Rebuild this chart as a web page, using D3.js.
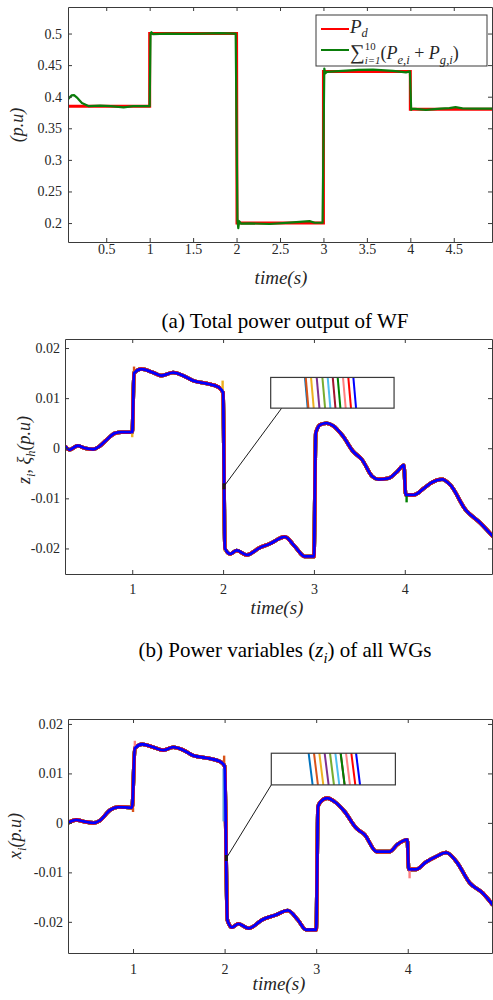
<!DOCTYPE html>
<html>
<head>
<meta charset="utf-8">
<script src="https://cdn.jsdelivr.net/npm/d3@7"></script>
<style>
  body { margin: 0; background: #fff; }
  svg { display: block; }
  .axis text { font-family: "Liberation Serif", "Times New Roman", serif; font-size: 14px; fill: #262626; }
  .axis line, .axis path { stroke: #3a3a3a; stroke-width: 1; }
  .cap { font-family: "Liberation Serif", "Times New Roman", serif; font-size: 21px; fill: #000; }
  .math { font-family: "Liberation Serif", "Times New Roman", serif; fill: #262626; }
</style>
</head>
<body>
<div id="fig"></div>
<script>
// ---- data ----

// (a) total power
const pdTime  = [0.06, 1.0, 1.0, 2.0, 2.005, 3.0, 3.0, 4.0, 4.0, 4.94];
const pdValue = [0.385, 0.385, 0.5, 0.5, 0.2, 0.2, 0.44, 0.44, 0.38, 0.38];

const sumTime  = [0.06, 0.10, 0.13, 0.16, 0.22, 0.30, 0.43, 0.55, 0.70, 0.81, 1.0, 1.01, 1.02, 1.04, 1.2, 1.5, 1.8, 1.99,
                  2.01, 2.02, 2.03, 2.05, 2.15, 2.38, 2.61, 2.84, 2.9, 2.99, 3.01, 3.02, 3.04, 3.22, 3.40, 3.57, 3.8, 3.95, 3.995,
                  4.01, 4.02, 4.18, 4.35, 4.45, 4.52, 4.6, 4.75, 4.94];
const sumValue = [0.396, 0.402, 0.4025, 0.399, 0.390, 0.385, 0.386, 0.385, 0.383, 0.385, 0.385, 0.499, 0.502, 0.499, 0.5, 0.4995, 0.5005, 0.5,
                  0.205, 0.192, 0.203, 0.199, 0.1995, 0.1985, 0.2006, 0.203, 0.2005, 0.2006, 0.4446, 0.437, 0.4394, 0.441, 0.4425, 0.443, 0.441, 0.4385, 0.44,
                  0.379, 0.381, 0.379, 0.381, 0.382, 0.3835, 0.3815, 0.381, 0.381];

// (b) power variables z_i
const zTime  = [0.26, 0.31, 0.40, 0.48, 0.57, 0.64, 0.72, 0.81, 0.88, 1.00, 1.02, 1.10, 1.23, 1.32, 1.45, 1.56, 1.67, 1.82, 1.95, 2.00,
                2.02, 2.08, 2.15, 2.26, 2.40, 2.51, 2.68, 2.79, 2.90, 3.00, 3.02, 3.07, 3.14, 3.21, 3.32, 3.43, 3.53, 3.64, 3.71, 3.82,
                3.92, 3.99, 4.01, 4.10, 4.21, 4.30, 4.41, 4.50, 4.67, 4.83, 4.97];
const zValue = [0.0004, -0.0003, 0.0005, 0.0, -0.0002, 0.0004, 0.0017, 0.0030, 0.0032, 0.0032, 0.0150, 0.0158, 0.0151, 0.0145, 0.0151, 0.0145, 0.0135, 0.0129, 0.0122, 0.0111,
                -0.0200, -0.0211, -0.0204, -0.0213, -0.0199, -0.0191, -0.0177, -0.0196, -0.0216, -0.0216, 0.0030, 0.0047, 0.0050, 0.0045, 0.0024, -0.0006, -0.0023, -0.0056, -0.0062, -0.0060,
                -0.0046, -0.0034, -0.0093, -0.0093, -0.0080, -0.0068, -0.0062, -0.0073, -0.0123, -0.0149, -0.0176];

// (c) states x_i
const xTime  = [0.29, 0.38, 0.46, 0.57, 0.64, 0.75, 0.84, 0.99, 1.02, 1.10, 1.22, 1.33, 1.44, 1.55, 1.66, 1.81, 1.95, 2.00, 2.03, 2.08,
                2.15, 2.26, 2.42, 2.56, 2.69, 2.80, 2.89, 3.00, 3.02, 3.05, 3.12, 3.20, 3.31, 3.44, 3.53, 3.66, 3.80, 3.89, 3.995, 4.01,
                4.09, 4.20, 4.31, 4.42, 4.53, 4.68, 4.82, 4.93];
const xValue = [0.0, 0.0006, 0.0003, 0.0, 0.0005, 0.0026, 0.0032, 0.0031, 0.0151, 0.0159, 0.0153, 0.0147, 0.0153, 0.0147, 0.0136, 0.0131, 0.0124, 0.0115, -0.0196, -0.0211,
                -0.0204, -0.0213, -0.0195, -0.0186, -0.0177, -0.0196, -0.0216, -0.0216, 0.0033, 0.0043, 0.0050, 0.0043, 0.0023, -0.0011, -0.0024, -0.0058, -0.0058, -0.0043, -0.0034, -0.0094,
                -0.0094, -0.0079, -0.0068, -0.0060, -0.0078, -0.0122, -0.0142, -0.0166];

// one colour per WG (+ the blue trace drawn on top)
const wgColors = ["#0072BD", "#D95319", "#EDB120", "#7E2F8E", "#77AC30", "#4DBEEE", "#A2142F", "#008000", "#FF8080", "#FF0000", "#0000FF"];

// short transients of single WGs poking out from under the blue trace
const zSpikes = [
  { t: 1.0,   from: 0.0032,  to: 0.0022,  color: "#EDB120" },
  { t: 1.02,  from: 0.0150,  to: 0.0163,  color: "#D95319" },
  { t: 1.995, from: 0.0111,  to: 0.0135,  color: "#EDB120" },
  { t: 2.02,  from: -0.0200, to: -0.0206, color: "#EDB120" },
  { t: 4.02,  from: -0.0093, to: -0.0108, color: "#008000" }
];
const xSpikes = [
  { t: 1.0,   from: 0.0031,  to: 0.0022,  color: "#D95319" },
  { t: 1.02,  from: 0.0151,  to: 0.0166,  color: "#FF8080" },
  { t: 1.995, from: 0.0115,  to: 0.0136,  color: "#D95319" },
  { t: 1.99,  from: 0.0110,  to: 0.0003,  color: "#5B9BD5" },
  { t: 4.02,  from: -0.0094, to: -0.0112, color: "#FF8080" }
];

// zoom insets: where each WG trace crosses the top / bottom of the inset window (relative units 0..1)
const insetZTop = [0.278, 0.284, 0.327, 0.373, 0.419, 0.462, 0.503, 0.543, 0.586, 0.629, 0.670];
const insetZBot = [0.300, 0.306, 0.349, 0.395, 0.441, 0.484, 0.525, 0.565, 0.608, 0.651, 0.692];
const insetXTop = [0.301, 0.344, 0.387, 0.430, 0.473, 0.516, 0.559, 0.559, 0.602, 0.645, 0.683];
const insetXBot = [0.333, 0.376, 0.419, 0.462, 0.505, 0.548, 0.591, 0.591, 0.634, 0.677, 0.715];

// ticks
const aXTicks = [0.5, 1, 1.5, 2, 2.5, 3, 3.5, 4, 4.5];
const aYTicks = [0.2, 0.25, 0.3, 0.35, 0.4, 0.45, 0.5];
const bXTicks = [1, 2, 3, 4];
const bYTicks = [-0.02, -0.01, 0, 0.01, 0.02];

// ---- helpers ----
const zip = (ts, vs) => ts.map((t, i) => ({ t: t, v: vs[i] }));

const svg = d3.select("#fig").append("svg").attr("width", 493).attr("height", 1000);

function startPanel(id, dims, xDomain, yDomain) {
  const g = svg.append("g").attr("transform", "translate(" + dims.left + "," + dims.top + ")");
  const x = d3.scaleLinear().domain(xDomain).range([0, dims.width]);
  const y = d3.scaleLinear().domain(yDomain).range([dims.height, 0]);
  g.append("clipPath").attr("id", id).append("rect").attr("width", dims.width).attr("height", dims.height);
  const plot = g.append("g").attr("clip-path", "url(#" + id + ")");
  return { g, plot, x, y, dims };
}

function addAxes(p, xTicks, yTicks, xPad, yPad) {
  const fmt = d => String(+d.toFixed(3));
  p.g.append("g").attr("class", "axis")
    .attr("transform", "translate(0," + p.dims.height + ")")
    .call(d3.axisBottom(p.x).tickValues(xTicks).tickSize(-4).tickSizeOuter(0).tickPadding(xPad).tickFormat(fmt));
  p.g.append("g").attr("class", "axis")
    .call(d3.axisTop(p.x).tickValues(xTicks).tickSize(-4).tickSizeOuter(0).tickFormat(""));
  p.g.append("g").attr("class", "axis")
    .call(d3.axisLeft(p.y).tickValues(yTicks).tickSize(-4).tickSizeOuter(0).tickPadding(yPad).tickFormat(fmt));
  p.g.append("g").attr("class", "axis")
    .attr("transform", "translate(" + p.dims.width + ",0)")
    .call(d3.axisRight(p.y).tickValues(yTicks).tickSize(-4).tickSizeOuter(0).tickFormat(""));
}

// text with sub/superscripts, parts = [{t, it, sub, sup, stack}]
// stack: superscript drawn above the preceding subscript
function mathText(sel, parts, size, subK, supK) {
  subK = subK || 0.3;
  supK = supK || 0.42;
  let shift = 0, prev = null, extra = 0;
  parts.forEach(p => {
    const target = p.sub ? size * subK : p.sup ? -size * supK : 0;
    const ts = sel.append("tspan").text(p.t)
      .attr("dy", target - shift)
      .style("font-size", (p.sub || p.sup ? size * (p.small || 0.7) : (p.big || 1) * size) + "px")
      .style("font-style", p.it ? "italic" : "normal");
    if (p.stack && prev) {
      const subLen = prev.node().getComputedTextLength();
      ts.attr("dx", -subLen);
      extra = Math.max(0, subLen - ts.node().getComputedTextLength());
    } else if (extra) {
      ts.attr("dx", extra);
      extra = 0;
    }
    shift = target;
    prev = ts;
  });
}

function yLabel(x, y, parts, size) {
  const t = svg.append("text").attr("class", "math")
    .attr("transform", "translate(" + x + "," + y + ") rotate(-90)")
    .attr("text-anchor", "middle");
  mathText(t, parts, size);
}

function xLabel(x, y) {
  svg.append("text").attr("class", "math").attr("x", x).attr("y", y)
    .attr("text-anchor", "middle").style("font-size", "19px").style("font-style", "italic")
    .text("time(s)");
}

function caption(x, y, parts) {
  const t = svg.append("text").attr("class", "cap").attr("x", x).attr("y", y).attr("text-anchor", "middle");
  mathText(t, parts, 21);
}

function lineGen(p, curve) {
  return d3.line().x(d => p.x(d.t)).y(d => p.y(d.v)).curve(curve || d3.curveLinear);
}

// WG traces + spikes + zoom inset for panels b and c
function drawWGPanel(p, data, spikes, insetTop, insetBot, box, mark) {
  const line = lineGen(p, d3.curveMonotoneX);
  const blue = wgColors[wgColors.length - 1];
  // coloured traces stacked underneath the blue one
  wgColors.slice(0, -1).forEach(c => {
    p.plot.append("path").datum(data)
      .attr("d", line).attr("fill", "none")
      .attr("stroke", c).attr("stroke-width", 3.6)
      .attr("stroke-linejoin", "round");
  });
  spikes.forEach(s => {
    p.plot.append("line")
      .attr("x1", p.x(s.t)).attr("x2", p.x(s.t))
      .attr("y1", p.y(s.from)).attr("y2", p.y(s.to))
      .attr("stroke", s.color).attr("stroke-width", 2.4);
  });
  p.plot.append("path").datum(data)
    .attr("d", line).attr("fill", "none")
    .attr("stroke", blue).attr("stroke-width", 2.8)
    .attr("stroke-linejoin", "round");

  // zoom marker + connector
  const bx0 = p.x(box.t0), bx1 = p.x(box.t1), by0 = p.y(box.v1), by1 = p.y(box.v0);
  p.g.append("line")
    .attr("x1", bx0 + 11 * box.connect).attr("y1", by1)
    .attr("x2", p.x(mark.t)).attr("y2", p.y(mark.v))
    .attr("stroke", "#000").attr("stroke-width", 0.9);
  p.g.append("rect")
    .attr("x", p.x(mark.t) - 1.5).attr("y", p.y(mark.v) - 3)
    .attr("width", 3).attr("height", 6).attr("fill", "#1a1a1a");

  // inset
  const ins = p.g.append("g");
  ins.append("rect").attr("x", bx0).attr("y", by0).attr("width", bx1 - bx0).attr("height", by1 - by0)
    .attr("fill", "#fff").attr("stroke", "none");
  const ix = d3.scaleLinear().domain([0, 1]).range([bx0, bx1]);
  wgColors.forEach((c, i) => {
    ins.append("line")
      .attr("x1", ix(insetTop[i])).attr("y1", by0)
      .attr("x2", ix(insetBot[i])).attr("y2", by1)
      .attr("stroke", c).attr("stroke-width", 2);
  });
  ins.append("rect").attr("x", bx0).attr("y", by0).attr("width", bx1 - bx0).attr("height", by1 - by0)
    .attr("fill", "none").attr("stroke", "#3a3a3a").attr("stroke-width", 1.2);
}

// ---- panel (a) ----
const pa = startPanel("clipA", { left: 68, top: 7, width: 424, height: 235 }, [0.06, 4.94], [0.17, 0.542]);
pa.plot.append("path").datum(zip(pdTime, pdValue))
  .attr("d", lineGen(pa)).attr("fill", "none").attr("stroke", "#FF0000").attr("stroke-width", 3);
pa.plot.append("path").datum(zip(sumTime, sumValue))
  .attr("d", lineGen(pa)).attr("fill", "none").attr("stroke", "#0A7D0A").attr("stroke-width", 2.2)
  .attr("stroke-linejoin", "round");
addAxes(pa, aXTicks, aYTicks, 2, 6);

// legend
const lg = pa.g.append("g").attr("transform", "translate(" + (pa.dims.width - 176) + ",8)");
lg.append("rect").attr("width", 171).attr("height", 51).attr("fill", "#fff").attr("stroke", "#3a3a3a").attr("stroke-width", 1);
lg.append("line").attr("x1", 5).attr("x2", 33).attr("y1", 14).attr("y2", 14).attr("stroke", "#FF0000").attr("stroke-width", 2);
lg.append("line").attr("x1", 5).attr("x2", 33).attr("y1", 35).attr("y2", 35).attr("stroke", "#0A7D0A").attr("stroke-width", 2);
mathText(lg.append("text").attr("class", "math").attr("x", 34).attr("y", 18),
  [{ t: "P", it: true }, { t: "d", it: true, sub: true, small: 0.65 }], 19, 0.2);
mathText(lg.append("text").attr("class", "math").attr("x", 34).attr("y", 44),
  [{ t: "\u2211", big: 1.15 }, { t: "i=1", it: true, sub: true, small: 0.6 }, { t: "10", sup: true, stack: true, small: 0.6 },
   { t: "(" }, { t: "P", it: true }, { t: "e,i", it: true, sub: true }, { t: " + " },
   { t: "P", it: true }, { t: "g,i", it: true, sub: true }, { t: ")" }], 18, 0.25, 0.52);

yLabel(23, 125, [{ t: "(p.u)", it: true }], 18);
xLabel(281, 284);
caption(285, 328, [{ t: "(a) Total power output of WF" }]);

// ---- panel (b) ----
const pb = startPanel("clipB", { left: 65, top: 339, width: 427, height: 235 }, [0.26, 4.96], [-0.0251, 0.0218]);
drawWGPanel(pb, zip(zTime, zValue), zSpikes, insetZTop, insetZBot,
  { t0: 2.524, t1: 3.882, v0: 0.0080, v1: 0.01413, connect: 1 }, { t: 2.01, v: -0.0076 });
addAxes(pb, bXTicks, bYTicks, 10, 5);
yLabel(30, 450, [{ t: "z", it: true }, { t: "i", it: true, sub: true }, { t: ", " },
  { t: "\u03be", it: true }, { t: "h", it: true, sub: true }, { t: "(p.u)", it: true }], 18);
xLabel(277, 614);
caption(285, 657, [{ t: "(b) Power variables (" }, { t: "z", it: true }, { t: "i", it: true, sub: true }, { t: ") of all WGs" }]);

// ---- panel (c) ----
const pc = startPanel("clipC", { left: 68, top: 719, width: 424, height: 234 }, [0.29, 4.92], [-0.0263, 0.0210]);
drawWGPanel(pc, zip(xTime, xValue), xSpikes, insetXTop, insetXBot,
  { t0: 2.51, t1: 3.865, v0: 0.00768, v1: 0.01408, connect: 0 }, { t: 2.02, v: -0.0071 });
addAxes(pc, bXTicks, bYTicks, 11, 5);
yLabel(21, 836, [{ t: "x", it: true }, { t: "i", it: true, sub: true }, { t: "(p.u)", it: true }], 18);
xLabel(279, 990);
</script>
</body>
</html>
